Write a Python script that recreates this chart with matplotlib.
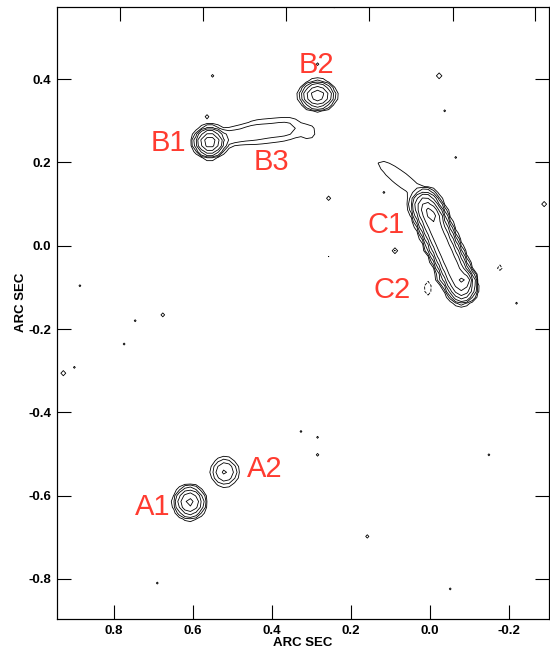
import numpy as np
import matplotlib.pyplot as plt

plt.rcParams['font.family'] = ['Liberation Sans', 'DejaVu Sans']
plt.rcParams['axes.unicode_minus'] = False

# source components: position (arcsec), peak (x rms), widths, position angle,
# profile exponent along the major axis
comp_name = ['A1', 'A2', 'B1', 'B1 ext', 'B2', 'B3', 'B3 end', 'C', 'C1a', 'C1b', 'C2', 'C plume',
             'blob', 'neg1', 'neg2', 'neg3']
comp_x = [0.608, 0.519, 0.557, 0.500, 0.284, 0.398, 0.305, -0.035, 0.000, -0.013, -0.089, 0.072,
          0.558, 0.005, -0.177, 0.256]
comp_y = [-0.616, -0.543, 0.249, 0.262, 0.361, 0.277, 0.273, -0.002, 0.083, 0.071, -0.082, 0.160,
          0.177, -0.102, -0.051, -0.030]
comp_peak = [40, 9, 100, 3.5, 50, 3, 1.7, 110, 60, 60, 90, 1.8,
             1.8, -1.8, -1.6, -1.3]
comp_sa = [0.016, 0.017, 0.015, 0.035, 0.0177, 0.060, 0.014, 0.114, 0.009, 0.009, 0.009, 0.066,
           0.010, 0.0155, 0.008, 0.006]
comp_sb = [0.016, 0.017, 0.0135, 0.014, 0.0137, 0.019, 0.015, 0.0145, 0.009, 0.009, 0.009, 0.016,
           0.007, 0.0093, 0.008, 0.006]
comp_pa = [0, 0, 0, -9, 0, -6, 0, 65, 0, 0, 0, 36,
           0, 90, 0, 0]
comp_pexp = [2, 2, 2, 2, 2, 4, 2, 8, 2, 2, 2, 2,
             2, 2, 2, 2]

# single-pixel noise peaks
speck_x = [0.549, 0.570, -0.018, -0.043, -0.071, 0.253, 0.122, -0.294, 0.238, 0.084, 0.005,
           -0.025, -0.218, 0.886, 0.673, 0.744, 0.780, 0.932, 0.901, 0.329, 0.284, 0.284,
           -0.144, 0.152, 0.684, -0.056, 0.278]
speck_y = [0.407, 0.311, 0.409, 0.320, 0.212, 0.121, 0.126, 0.097, 0.571, -0.018, -0.017,
           -0.075, -0.138, -0.100, -0.160, -0.183, -0.238, -0.303, -0.287, -0.447, -0.459, -0.503,
           -0.505, -0.699, -0.810, -0.826, 0.434]
speck_amp = [1.3, 1.5, 2.0, 1.2, 1.2, 1.6, 1.2, 1.8, 1.5, 2.0, 1.5,
             2.0, 1.2, 1.2, 1.5, 1.2, 1.2, 1.8, 1.2, 1.2, 1.2, 1.3,
             1.2, 1.4, 1.2, 1.2, 1.3]

levels = [-1, 1, 2, 4, 8, 16, 32, 64, 128]

labels = ['A1', 'A2', 'B1', 'B2', 'B3', 'C1', 'C2']
label_x = [0.701, 0.418, 0.661, 0.286, 0.400, 0.111, 0.094]
label_y = [-0.627, -0.536, 0.246, 0.434, 0.200, 0.049, -0.106]

xticks = [0.8, 0.6, 0.4, 0.2, 0.0, -0.2]
xtick_labels = ['0.8', '0.6', '0.4', '0.2', '0.0', '-0.2']
yticks = [0.4, 0.2, 0.0, -0.2, -0.4, -0.6, -0.8]
ytick_labels = ['0.4', '0.2', '0.0', '-0.2', '-0.4', '-0.6', '-0.8']
top_ticks = [0.785, 0.575, 0.365, 0.154, -0.058, -0.268]

# map grid (coarse map pixels)
step = 0.014
gx = np.arange(-0.36, 1.0, step)
gy = np.arange(-0.95, 0.63, step)
X, Y = np.meshgrid(gx, gy)
Z = np.zeros_like(X)

for x0, y0, pk, sa, sb, pa, pe in zip(comp_x, comp_y, comp_peak, comp_sa, comp_sb,
                                      comp_pa, comp_pexp):
    t = np.deg2rad(pa)
    dx = X - x0
    dy = Y - y0
    a = dx * np.cos(t) + dy * np.sin(t)
    b = -dx * np.sin(t) + dy * np.cos(t)
    Z += pk * np.exp(-0.5 * (np.abs(a / sa) ** pe + (b / sb) ** 2))

ix = np.rint((np.array(speck_x) - gx[0]) / step).astype(int)
iy = np.rint((np.array(speck_y) - gy[0]) / step).astype(int)
np.add.at(Z, (iy, ix), speck_amp)

fig = plt.figure(figsize=(5.5, 6.49), dpi=100)
ax = fig.add_axes([57 / 550, 29.7 / 649, 491.5 / 550, 612.6 / 649])

ax.contour(X, Y, Z, levels=levels, colors='k', linewidths=0.6,
           negative_linestyles='dashed')

for s, lx, ly in zip(labels, label_x, label_y):
    ax.text(lx, ly, s, color='#ff3b30', fontsize=21, ha='center', va='center')

ax.set_xlim(0.944, -0.301)
ax.set_ylim(-0.897, 0.574)

ax.set_xticks(xticks)
ax.set_xticklabels(xtick_labels, fontweight='bold')
ax.set_yticks(yticks)
ax.set_yticklabels(ytick_labels, fontweight='bold')
ax.tick_params(axis='both', direction='in', length=10, width=0.8, labelsize=9.5, pad=4)
ax.tick_params(axis='y', right=True)
ax.tick_params(axis='x', top=False)

# top axis ticks on their own spacing
ax_top = ax.twiny()
ax_top.set_xlim(ax.get_xlim())
ax_top.set_xticks(top_ticks)
ax_top.tick_params(axis='x', direction='in', length=10, width=0.8,
                   top=True, labeltop=False)

for a_ in (ax, ax_top):
    for sp in a_.spines.values():
        sp.set_linewidth(0.8)

ax.set_xlabel('ARC SEC', fontweight='bold', fontsize=9.5)
ax.set_ylabel('ARC SEC', fontweight='bold', fontsize=9.5)
ax.xaxis.set_label_coords(0.5, -0.029)
ax.yaxis.set_label_coords(-0.062, 0.518)

fig.savefig('out.png', dpi=100)
